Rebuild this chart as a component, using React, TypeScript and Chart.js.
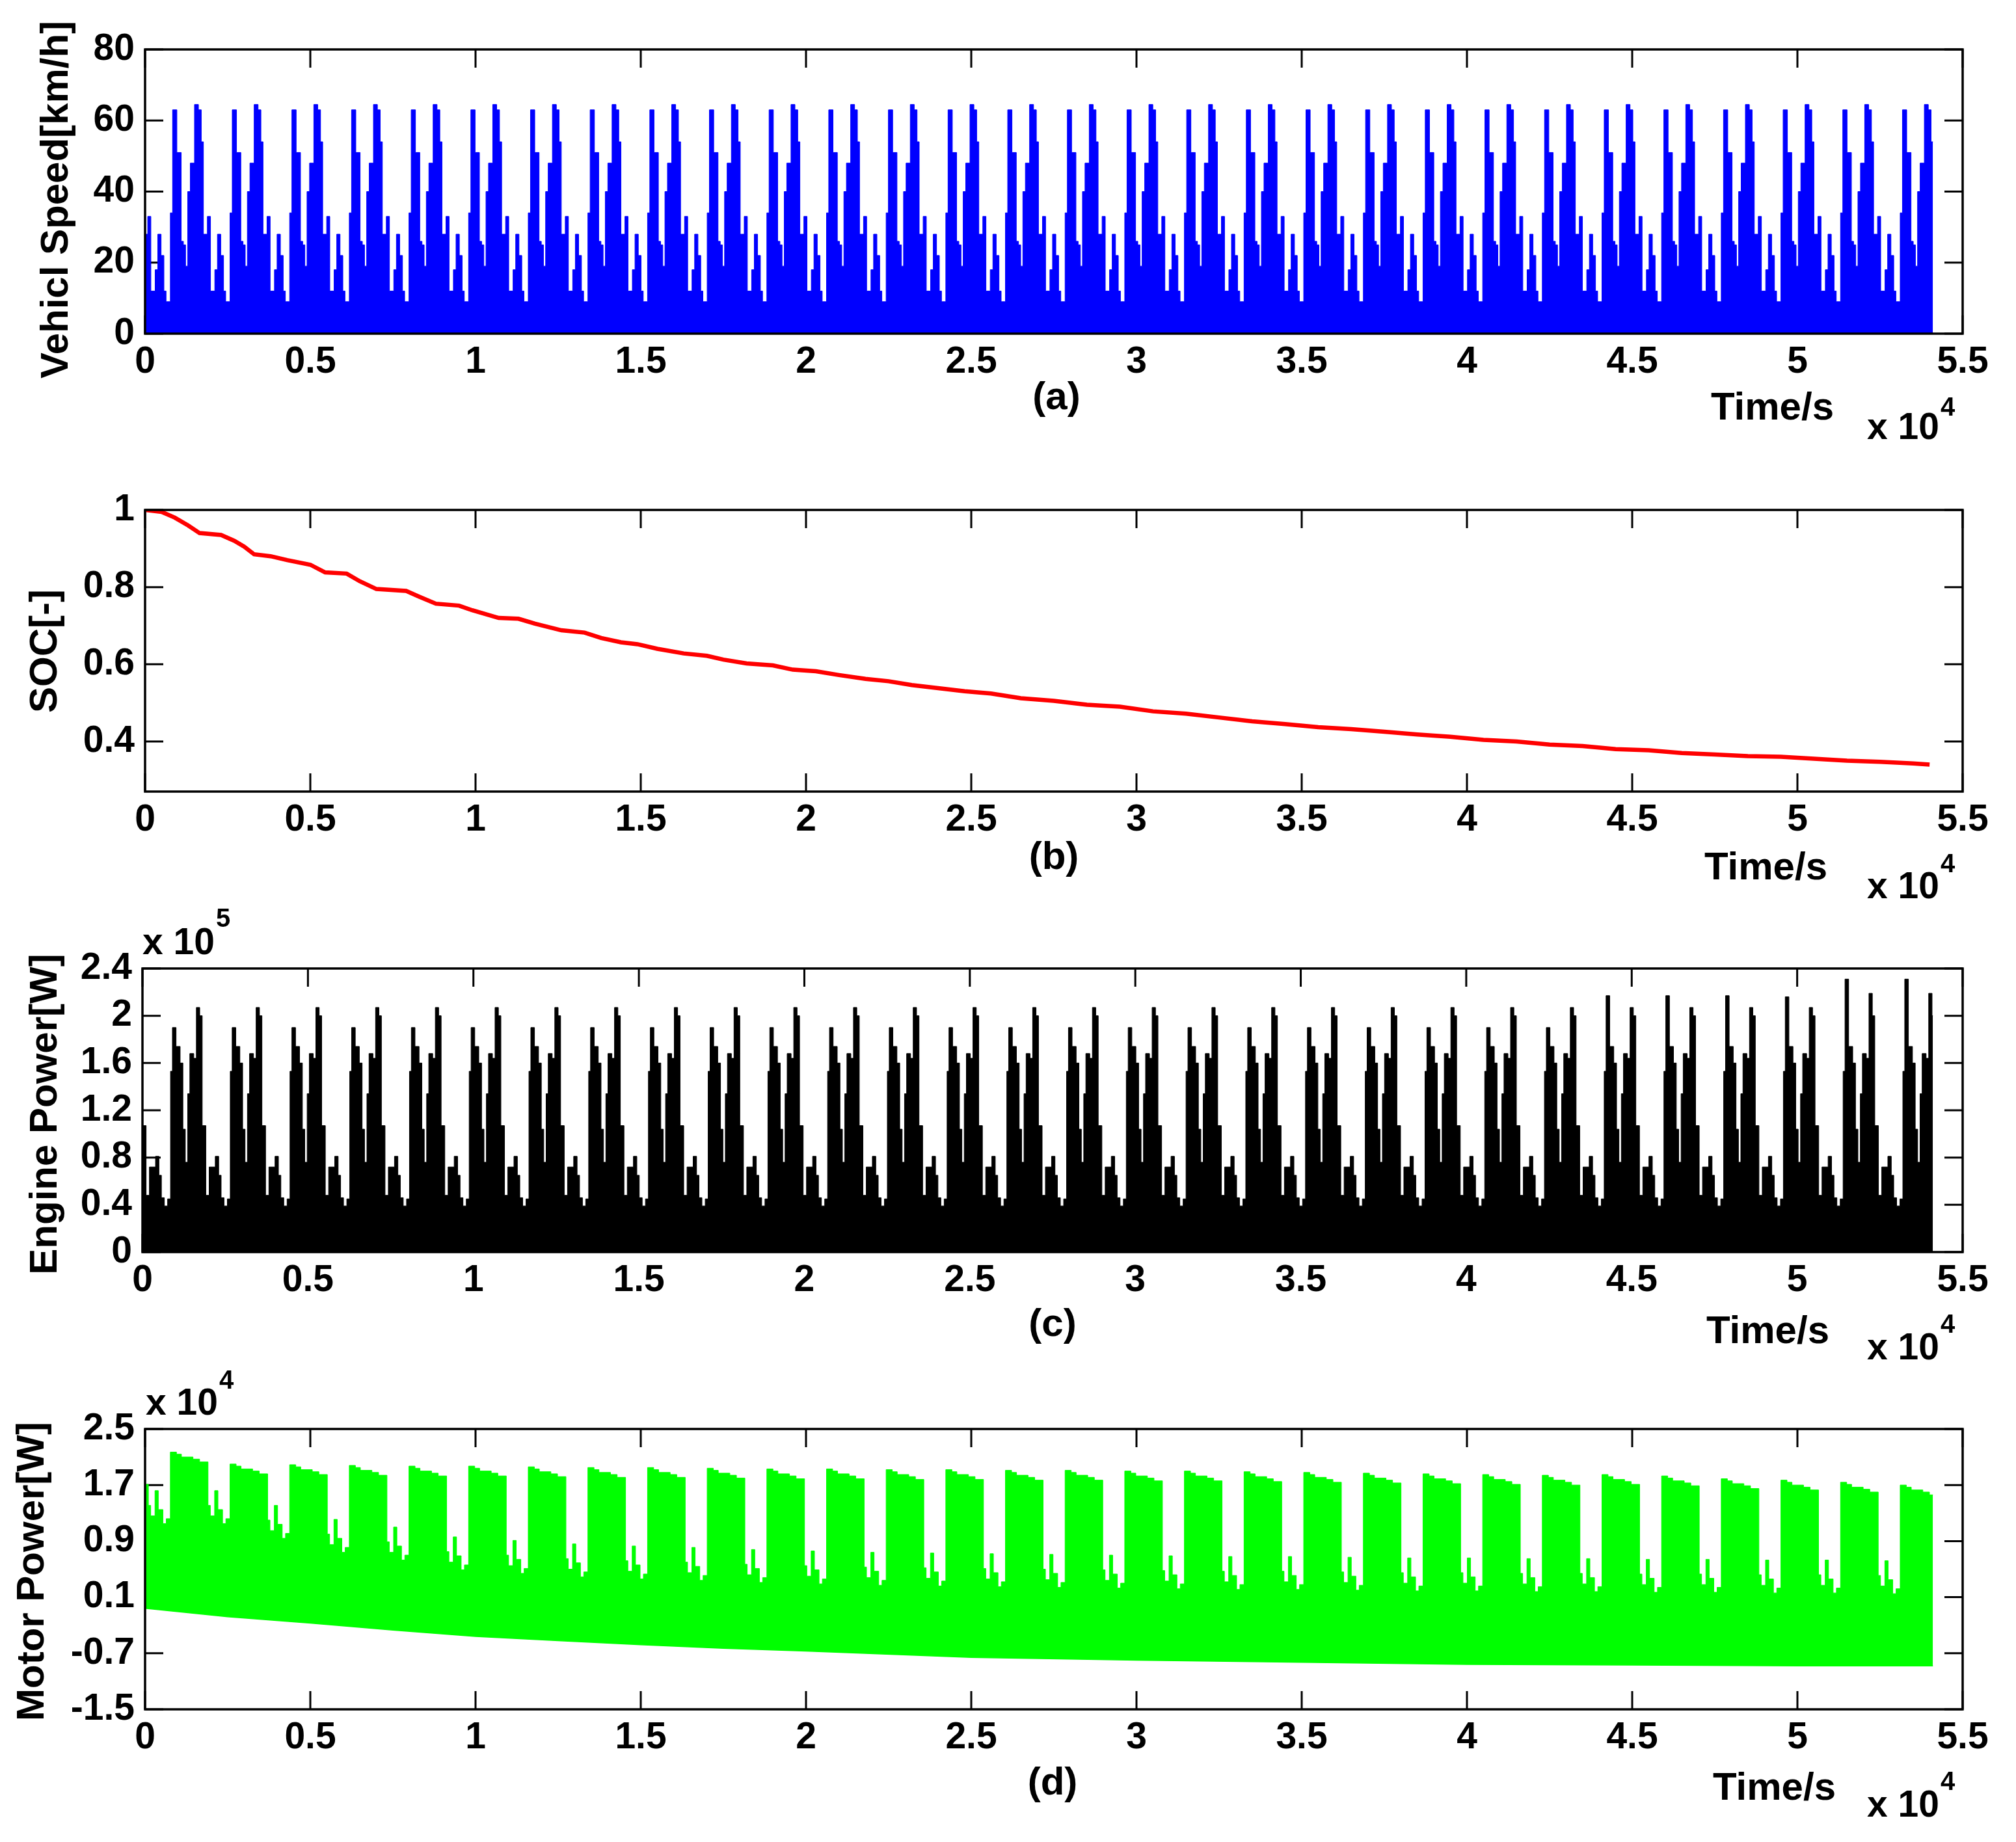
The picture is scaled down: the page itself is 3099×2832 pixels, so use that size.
import React, { useEffect, useRef } from 'react';
import { Chart, registerables } from 'chart.js';

Chart.register(...registerables);

const PAGE_W = 3099;
const PAGE_H = 2832;
const FONT_FAMILY = '"Liberation Sans", Arial, Helvetica, sans-serif';
const TICK_FONT_SIZE = 57;
const TITLE_FONT_SIZE = 60;
const TICK_LEN = 28;

// ---------- shared time axis (s) ----------
const xTickValues = [0, 5000, 10000, 15000, 20000, 25000, 30000, 35000, 40000, 45000, 50000, 55000];
const xTickLabels = ['0', '0.5', '1', '1.5', '2', '2.5', '3', '3.5', '4', '4.5', '5', '5.5'];
const CYCLE_COUNT = 30;
const CYCLE_PERIOD = 1805; // s, one repeated driving cycle
const DATA_END = 54100; // s

// ---------- (a) vehicle speed, km/h ----------
const speedYTicks = [0, 20, 40, 60, 80];
const speedYLabels = ['0', '20', '40', '60', '80'];
const speedCycleOffsets = [0, 80, 175, 305, 385, 485, 570, 635, 765, 833, 962, 1093, 1160, 1226, 1291, 1368, 1496, 1615, 1700, 1765];
const speedCycleValues = [28, 33, 12, 18, 28, 22, 12, 9, 34, 63, 51, 26, 25, 19, 40, 48, 64.5, 63, 54, 28];

// ---------- (b) SOC ----------
const socYTicks = [0.4, 0.6, 0.8, 1];
const socYLabels = ['0.4', '0.6', '0.8', '1'];
const socTime = [0, 500, 900, 1300, 1650, 2300, 2700, 3000, 3300, 3800, 4300, 5000, 5450, 6100, 6500, 7000, 7900, 8300, 8800, 9500, 9900, 10700, 11300, 11800, 12600, 13300, 13800, 14400, 14900, 15500, 16300, 17000, 17500, 18200, 19000, 19600, 20300, 21000, 21800, 22500, 23200, 24000, 24800, 25600, 26500, 27500, 28500, 29500, 30500, 31500, 32500, 33500, 34500, 35500, 36500, 37500, 38500, 39500, 40500, 41500, 42500, 43500, 44500, 45500, 46500, 47500, 48500, 49500, 50500, 51500, 52500, 53500, 54000];
const socValue = [1.0, 0.995, 0.98, 0.96, 0.94, 0.935, 0.92, 0.905, 0.885, 0.88, 0.87, 0.858, 0.838, 0.835, 0.815, 0.795, 0.79, 0.775, 0.757, 0.752, 0.74, 0.72, 0.718, 0.705, 0.688, 0.682, 0.668, 0.657, 0.652, 0.64, 0.628, 0.622, 0.612, 0.602, 0.597, 0.586, 0.582, 0.572, 0.562, 0.556, 0.546, 0.538, 0.53, 0.524, 0.512, 0.505, 0.495, 0.49, 0.478, 0.472, 0.462, 0.452, 0.445, 0.437, 0.432, 0.425, 0.418, 0.412, 0.404, 0.4, 0.392, 0.388, 0.38, 0.377, 0.37, 0.366, 0.362, 0.36, 0.355, 0.35, 0.347, 0.343, 0.34];

// ---------- (c) engine power, x1e5 W ----------
const engineYTicks = [0, 0.4, 0.8, 1.2, 1.6, 2, 2.4];
const engineYLabels = ['0', '0.4', '0.8', '1.2', '1.6', '2', '2.4'];
const engineCycleOffsets = [0, 110, 210, 395, 498, 572, 660, 760, 848, 905, 1015, 1138, 1222, 1295, 1367, 1431, 1550, 1629, 1730];
const engineCycleValues = [1.07, 0.48, 0.72, 0.81, 0.65, 0.46, 0.39, 0.45, 1.53, 1.9, 1.74, 1.6, 1.04, 0.76, 1.34, 1.68, 1.64, 2.07, 2.0];
const ENGINE_PEAK_A_INDEX = 9;
const ENGINE_PEAK_B_INDEX = 17;
const enginePeakA = [1.9, 1.9, 1.9, 1.9, 1.9, 1.9, 1.9, 1.9, 1.9, 1.9, 1.9, 1.9, 1.9, 1.9, 1.9, 1.9, 1.9, 1.9, 1.9, 1.9, 1.9, 1.9, 1.9, 1.9, 2.17, 2.17, 2.17, 2.16, 2.31, 2.31];
const enginePeakB = [2.07, 2.07, 2.07, 2.07, 2.07, 2.07, 2.07, 2.07, 2.07, 2.07, 2.07, 2.07, 2.07, 2.07, 2.07, 2.07, 2.07, 2.07, 2.07, 2.07, 2.07, 2.07, 2.07, 2.07, 2.07, 2.07, 2.07, 2.07, 2.19, 2.19];

// ---------- (d) motor power, x1e4 W ----------
const motorYTicks = [-1.5, -0.7, 0.1, 0.9, 1.7, 2.5];
const motorYLabels = ['-1.5', '-0.7', '0.1', '0.9', '1.7', '2.5'];
const motorStartValue = 1.71;
const motorLowOffsets = [100, 170, 300, 400, 540, 640];
const motorLowShape = [0.15, 0, 0.36, 0.09, -0.11, -0.04];
const motorPlateauOffsets = [765, 950, 1100, 1450, 1650];
const motorPlateauShape = [0.07, 0.04, 0, -0.03, -0.07];
const motorLowLevel = [1.26, 1.26, 1.05, 0.85, 0.74, 0.6, 0.55, 0.5, 0.47, 0.45, 0.42, 0.4, 0.38, 0.37, 0.36, 0.35, 0.34, 0.33, 0.32, 0.32, 0.31, 0.3, 0.3, 0.29, 0.29, 0.28, 0.28, 0.27, 0.27, 0.26];
const motorPlateauLevel = [2.1, 1.93, 1.92, 1.91, 1.9, 1.9, 1.89, 1.88, 1.88, 1.87, 1.86, 1.86, 1.85, 1.85, 1.84, 1.84, 1.83, 1.83, 1.82, 1.81, 1.8, 1.79, 1.78, 1.77, 1.78, 1.76, 1.72, 1.7, 1.67, 1.63];
const motorLowerTime = [0, 2500, 5000, 7500, 10000, 12500, 15000, 17500, 20000, 25000, 30000, 35000, 40000, 45000, 50000, 54100];
const motorLowerValue = [-0.06, -0.18, -0.27, -0.37, -0.46, -0.52, -0.58, -0.63, -0.67, -0.76, -0.8, -0.83, -0.86, -0.87, -0.88, -0.88];

type Pt = { x: number; y: number };

function buildCycles(offsetsFor: (k: number) => number[], valuesFor: (k: number) => number[]): Pt[] {
  const pts: Pt[] = [];
  for (let k = 0; k < CYCLE_COUNT; k++) {
    const offs = offsetsFor(k);
    const vals = valuesFor(k);
    offs.forEach((o, i) => {
      const x = k * CYCLE_PERIOD + o;
      if (x < DATA_END) pts.push({ x, y: vals[i] });
    });
  }
  pts.push({ x: DATA_END, y: pts[pts.length - 1].y });
  return pts;
}

const speedPoints = buildCycles(() => speedCycleOffsets, () => speedCycleValues);
const socPoints: Pt[] = socTime.map((t, i) => ({ x: t, y: socValue[i] }));
const enginePoints = buildCycles(
  () => engineCycleOffsets,
  (k) => engineCycleValues.map((v, i) => (i === ENGINE_PEAK_A_INDEX ? enginePeakA[k] : i === ENGINE_PEAK_B_INDEX ? enginePeakB[k] : v))
);
const motorUpperPoints = buildCycles(
  (k) => (k === 0 ? [0, ...motorLowOffsets, ...motorPlateauOffsets] : [...motorLowOffsets, ...motorPlateauOffsets]),
  (k) => {
    const low = motorLowShape.map((d) => motorLowLevel[k] + d);
    const plat = motorPlateauShape.map((d) => motorPlateauLevel[k] + d);
    return k === 0 ? [motorStartValue, ...low, ...plat] : [...low, ...plat];
  }
);
const motorLowerPoints: Pt[] = motorLowerTime.map((t, i) => ({ x: t, y: motorLowerValue[i] }));

interface ExpSpec { x: number; base: number; sup: string; supBase: number }
interface PanelSpec {
  band: [number, number];
  area: { left: number; top: number; right: number; bottom: number };
  yMin: number;
  yMax: number;
  yTicks: number[];
  yLabels: string[];
  datasets: any[];
  yTitle: { text: string; x: number; y: number };
  panelLabel: { text: string; x: number; y: number };
  timeLabel: { x: number; y: number };
  expBottom: ExpSpec;
  expTop?: ExpSpec;
}

const panels: PanelSpec[] = [
  {
    band: [0, 700],
    area: { left: 223, top: 76, right: 3017, bottom: 513 },
    yMin: 0, yMax: 80, yTicks: speedYTicks, yLabels: speedYLabels,
    datasets: [{ data: speedPoints, borderColor: '#0000ff', backgroundColor: '#0000ff', borderWidth: 1, pointRadius: 0, stepped: true, fill: 'origin' }],
    yTitle: { text: 'Vehicl Speed[km/h]', x: 104, y: 307 },
    panelLabel: { text: '(a)', x: 1624, y: 629 },
    timeLabel: { x: 2630, y: 645 },
    expBottom: { x: 2870, base: 675, sup: '4', supBase: 639 },
  },
  {
    band: [700, 1395],
    area: { left: 223, top: 784, right: 3017, bottom: 1217 },
    yMin: 0.27, yMax: 1, yTicks: socYTicks, yLabels: socYLabels,
    datasets: [{ data: socPoints, borderColor: '#ff0000', backgroundColor: '#ff0000', borderWidth: 6.5, pointRadius: 0, fill: false }],
    yTitle: { text: 'SOC[-]', x: 87, y: 1001 },
    panelLabel: { text: '(b)', x: 1620, y: 1336 },
    timeLabel: { x: 2620, y: 1352 },
    expBottom: { x: 2870, base: 1381, sup: '4', supBase: 1341 },
  },
  {
    band: [1395, 2100],
    area: { left: 219, top: 1489, right: 3017, bottom: 1925 },
    yMin: 0, yMax: 2.4, yTicks: engineYTicks, yLabels: engineYLabels,
    datasets: [{ data: enginePoints, borderColor: '#000000', backgroundColor: '#000000', borderWidth: 1, pointRadius: 0, stepped: true, fill: 'origin' }],
    yTitle: { text: 'Engine Power[W]', x: 87, y: 1713 },
    panelLabel: { text: '(c)', x: 1618, y: 2054 },
    timeLabel: { x: 2623, y: 2065 },
    expBottom: { x: 2870, base: 2090, sup: '4', supBase: 2049 },
    expTop: { x: 219, base: 1467, sup: '5', supBase: 1425 },
  },
  {
    band: [2100, 2832],
    area: { left: 223, top: 2197, right: 3017, bottom: 2628 },
    yMin: -1.5, yMax: 2.5, yTicks: motorYTicks, yLabels: motorYLabels,
    datasets: [
      { data: motorUpperPoints, borderColor: '#00ff00', backgroundColor: '#00ff00', borderWidth: 1, pointRadius: 0, stepped: true, fill: '+1' },
      { data: motorLowerPoints, borderColor: '#00ff00', backgroundColor: '#00ff00', borderWidth: 1.5, pointRadius: 0, fill: false },
    ],
    yTitle: { text: 'Motor Power[W]', x: 67, y: 2416 },
    panelLabel: { text: '(d)', x: 1618, y: 2759 },
    timeLabel: { x: 2633, y: 2767 },
    expBottom: { x: 2870, base: 2793, sup: '4', supBase: 2752 },
    expTop: { x: 224, base: 2175, sup: '4', supBase: 2135 },
  },
];

const font = (size: number) => `bold ${size}px ${FONT_FAMILY}`;

function makeDecorPlugin(spec: PanelSpec) {
  const dy = spec.band[0];
  const drawExp = (ctx: CanvasRenderingContext2D, e: ExpSpec) => {
    ctx.font = font(TICK_FONT_SIZE);
    ctx.textAlign = 'left';
    ctx.textBaseline = 'alphabetic';
    ctx.fillText('x 10', e.x, e.base - dy);
    const w = ctx.measureText('x 10').width;
    ctx.font = font(40);
    ctx.fillText(e.sup, e.x + w + 2, e.supBase - dy);
  };
  return {
    id: 'panelDecor',
    beforeDatasetsDraw(chart: any) {
      const { ctx, chartArea: a, scales } = chart;
      ctx.save();
      ctx.strokeStyle = '#000';
      ctx.lineWidth = 3;
      ctx.beginPath();
      for (const t of scales.x.ticks) {
        const px = scales.x.getPixelForValue(t.value);
        ctx.moveTo(px, a.bottom);
        ctx.lineTo(px, a.bottom - TICK_LEN);
        ctx.moveTo(px, a.top);
        ctx.lineTo(px, a.top + TICK_LEN);
      }
      for (const t of scales.y.ticks) {
        const py = scales.y.getPixelForValue(t.value);
        ctx.moveTo(a.left, py);
        ctx.lineTo(a.left + TICK_LEN, py);
        ctx.moveTo(a.right, py);
        ctx.lineTo(a.right - TICK_LEN, py);
      }
      ctx.stroke();
      ctx.restore();
    },
    afterDatasetsDraw(chart: any) {
      const { ctx, chartArea: a } = chart;
      ctx.save();
      ctx.strokeStyle = '#000';
      ctx.lineWidth = 3.5;
      ctx.strokeRect(a.left, a.top, a.right - a.left, a.bottom - a.top);
      ctx.restore();
    },
    afterDraw(chart: any) {
      const ctx: CanvasRenderingContext2D = chart.ctx;
      ctx.save();
      ctx.fillStyle = '#000';
      ctx.font = font(TITLE_FONT_SIZE);
      ctx.save();
      ctx.translate(spec.yTitle.x, spec.yTitle.y - dy);
      ctx.rotate(-Math.PI / 2);
      ctx.textAlign = 'center';
      ctx.textBaseline = 'alphabetic';
      ctx.fillText(spec.yTitle.text, 0, 0);
      ctx.restore();
      ctx.font = font(TITLE_FONT_SIZE);
      ctx.textBaseline = 'alphabetic';
      ctx.textAlign = 'center';
      ctx.fillText(spec.panelLabel.text, spec.panelLabel.x, spec.panelLabel.y - dy);
      ctx.textAlign = 'left';
      ctx.fillText('Time/s', spec.timeLabel.x, spec.timeLabel.y - dy);
      drawExp(ctx, spec.expBottom);
      if (spec.expTop) drawExp(ctx, spec.expTop);
      ctx.restore();
    },
  };
}

function buildConfig(spec: PanelSpec): any {
  const bandH = spec.band[1] - spec.band[0];
  const Y_AXIS_W = 200;
  const X_AXIS_H = 120;
  const top = spec.area.top - spec.band[0];
  const bottom = spec.area.bottom - spec.band[0];
  const tickFont = { family: FONT_FAMILY, size: TICK_FONT_SIZE, weight: 'bold' as const };
  return {
    type: 'line',
    data: { datasets: spec.datasets },
    options: {
      animation: false,
      responsive: false,
      devicePixelRatio: 1,
      events: [],
      layout: {
        padding: {
          left: spec.area.left - Y_AXIS_W,
          right: PAGE_W - spec.area.right,
          top,
          bottom: bandH - bottom - X_AXIS_H,
        },
      },
      plugins: { legend: { display: false }, tooltip: { enabled: false }, title: { display: false } },
      scales: {
        x: {
          type: 'linear',
          min: 0,
          max: 55000,
          grid: { display: false, drawTicks: false },
          border: { display: false },
          ticks: {
            autoSkip: false,
            maxRotation: 0,
            minRotation: 0,
            padding: 10,
            color: '#000',
            font: tickFont,
            callback: (_v: any, i: number) => xTickLabels[i],
          },
          afterBuildTicks: (scale: any) => {
            scale.ticks = xTickValues.map((v) => ({ value: v }));
          },
          afterFit: (scale: any) => {
            scale.height = X_AXIS_H;
          },
        },
        y: {
          type: 'linear',
          min: spec.yMin,
          max: spec.yMax,
          grid: { display: false, drawTicks: false },
          border: { display: false },
          ticks: {
            autoSkip: false,
            padding: 16,
            color: '#000',
            font: tickFont,
            callback: (_v: any, i: number) => spec.yLabels[i],
          },
          afterBuildTicks: (scale: any) => {
            scale.ticks = spec.yTicks.map((v) => ({ value: v }));
          },
          afterFit: (scale: any) => {
            scale.width = Y_AXIS_W;
          },
        },
      },
    },
    plugins: [makeDecorPlugin(spec)],
  };
}

function Panel({ spec }: { spec: PanelSpec }) {
  const ref = useRef<HTMLCanvasElement>(null);
  useEffect(() => {
    if (!ref.current) return;
    const chart = new Chart(ref.current, buildConfig(spec));
    return () => chart.destroy();
  }, [spec]);
  const h = spec.band[1] - spec.band[0];
  return (
    <canvas
      ref={ref}
      width={PAGE_W}
      height={h}
      style={{ position: 'absolute', left: 0, top: spec.band[0], width: PAGE_W, height: h, display: 'block' }}
    />
  );
}

export default function App() {
  return (
    <div style={{ position: 'absolute', left: 0, top: 0, width: PAGE_W, height: PAGE_H, background: '#ffffff', overflow: 'hidden' }}>
      {panels.map((p, i) => (
        <Panel key={i} spec={p} />
      ))}
    </div>
  );
}
